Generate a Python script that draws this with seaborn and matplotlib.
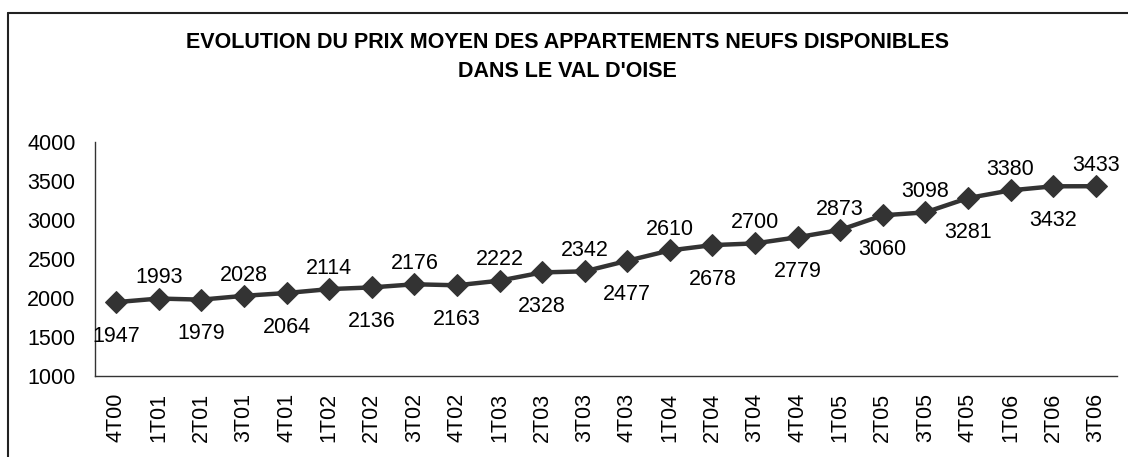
import seaborn as sns
import matplotlib.pyplot as plt
import pandas as pd
from matplotlib.lines import Line2D

# quarters and mean price (euros / m2)
quarters = ['4T00', '1T01', '2T01', '3T01', '4T01', '1T02', '2T02', '3T02', '4T02',
            '1T03', '2T03', '3T03', '4T03', '1T04', '2T04', '3T04', '4T04',
            '1T05', '2T05', '3T05', '4T05', '1T06', '2T06', '3T06']
prices = [1947, 1993, 1979, 2028, 2064, 2114, 2136, 2176, 2163, 2222, 2328, 2342,
          2477, 2610, 2678, 2700, 2779, 2873, 3060, 3098, 3281, 3380, 3432, 3433]

title = "EVOLUTION DU PRIX MOYEN DES APPARTEMENTS NEUFS DISPONIBLES\nDANS LE VAL D'OISE"

sns.set_style('white')
plt.rcParams['font.family'] = ['Liberation Sans', 'DejaVu Sans']
plt.rcParams['text.color'] = 'black'
plt.rcParams['xtick.color'] = 'black'
plt.rcParams['ytick.color'] = 'black'

df = pd.DataFrame({'trimestre': quarters, 'prix': prices})
df['pos'] = range(len(df))

fig = plt.figure(figsize=(11.28, 4.57), dpi=100)
ax = fig.add_axes([95 / 1128, 1 - 376 / 457, (1117 - 95) / 1128, (376 - 142) / 457])

sns.lineplot(data=df, x='pos', y='prix', ax=ax, color='#333333', linewidth=3.2,
             marker='D', markersize=11, markeredgecolor='#333333')

# value labels alternate below / above the line
for i, (x, v) in enumerate(zip(df['pos'], df['prix'])):
    if i % 2 == 0 and i != len(df) - 1:
        ax.annotate(str(v), (x, v), xytext=(0, -17), textcoords='offset points',
                    ha='center', va='top', fontsize=15.5)
    else:
        ax.annotate(str(v), (x, v), xytext=(0, 11), textcoords='offset points',
                    ha='center', va='baseline', fontsize=15.5)

ax.set_xlim(-0.5, len(df) - 0.5)
ax.set_ylim(1000, 4000)
ax.set_yticks(range(1000, 4001, 500))
ax.set_xticks(df['pos'])
ax.set_xticklabels(quarters, rotation=90, fontsize=15.5)
ax.set_xticks([p - 0.5 for p in range(len(df) + 1)], minor=True)
ax.tick_params(axis='x', which='major', length=0, pad=12)
ax.tick_params(axis='x', which='minor', length=7, width=1, color='#333333', direction='out')
ax.tick_params(axis='y', length=7, width=1, color='#333333', direction='out', pad=7, labelsize=15.5)
ax.set_xlabel('')
ax.set_ylabel('')
sns.despine(ax=ax)
for s in ['left', 'bottom']:
    ax.spines[s].set_color('#333333')
    ax.spines[s].set_linewidth(1)

fig.text(567 / 1128, 1 - 57 / 457, title, ha='center', va='center',
         fontsize=15.5, fontweight='bold', linespacing=1.5)

# chart frame (top and left edges visible in the crop)
fig.add_artist(Line2D([8 / 1128, 1], [1 - 12.5 / 457, 1 - 12.5 / 457],
                      transform=fig.transFigure, color='#222222', linewidth=1.5))
fig.add_artist(Line2D([8 / 1128, 8 / 1128], [0, 1 - 12.5 / 457],
                      transform=fig.transFigure, color='#222222', linewidth=1.5))

fig.savefig('out.png', dpi=100)
